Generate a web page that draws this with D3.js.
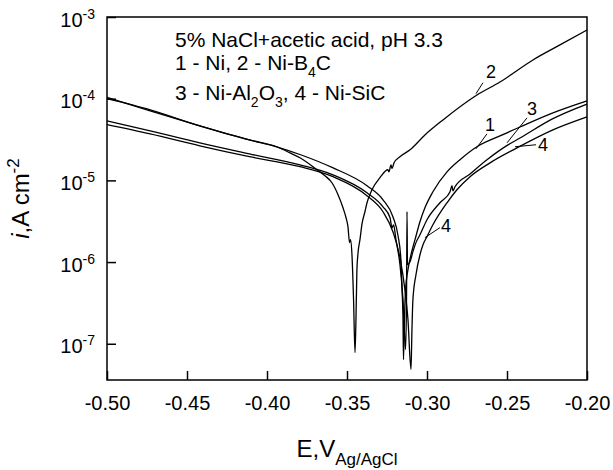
<!DOCTYPE html>
<html lang="en">
<head>
<meta charset="UTF-8">
<title>Polarization curves</title>
<style>
body { margin: 0; background: #fff; }
svg { font-family: "Liberation Sans", Arial, sans-serif; }
.curve { fill: none; stroke: #000; stroke-width: 1.3px; }
.frame { fill: none; stroke: #000; stroke-width: 1.5px; }
.lead { stroke: #000; stroke-width: 1px; }
</style>
</head>
<body>
<script src="https://cdn.jsdelivr.net/npm/d3@7"></script>
<script>
    // potentials (V vs Ag/AgCl) and current densities (A cm-2)
    var e1 = [-0.500, -0.473, -0.442, -0.411, -0.394, -0.379, -0.359, -0.3375, -0.3275, -0.3213, -0.3181, -0.3163, -0.3156, -0.3150, -0.3147, -0.3141, -0.3134, -0.3119, -0.3100, -0.3075, -0.3044, -0.3013, -0.2963, -0.2875, -0.2794, -0.2688, -0.2544, -0.2419, -0.2213, -0.2000];
    var i1 = [1.0e-4, 7.3e-5, 4.65e-5, 3.13e-5, 2.58e-5, 2.06e-5, 1.43e-5, 8.6e-6, 5.79e-6, 3.59e-6, 2.1e-6, 1.07e-6, 4.6e-7, 1.98e-7, 6.4e-8, 1.98e-7, 4.6e-7, 8.07e-7, 1.23e-6, 1.88e-6, 3.12e-6, 4.62e-6, 7.26e-6, 1.27e-5, 1.79e-5, 2.58e-5, 3.5e-5, 4.5e-5, 6.7e-5, 9.4e-5];

    var e2 = [-0.500, -0.473, -0.442, -0.411, -0.394, -0.3856, -0.3794, -0.3688, -0.3638, -0.3594, -0.3556, -0.3525, -0.3506, -0.3494, -0.3484, -0.3478, -0.3469, -0.3459, -0.3450, -0.3444, -0.3438, -0.3431, -0.3419, -0.3406, -0.3388, -0.3375, -0.3344, -0.3294, -0.3244, -0.3238, -0.3225, -0.3219, -0.3206, -0.3169, -0.3106, -0.3013, -0.2900, -0.2688, -0.2544, -0.2338, -0.2169, -0.2000];
    var i2 = [1.04e-4, 7.1e-5, 4.65e-5, 3.13e-5, 2.58e-5, 2.17e-5, 1.89e-5, 1.35e-5, 1.14e-5, 9.35e-6, 6.67e-6, 4.62e-6, 3.49e-6, 2.71e-6, 1.73e-6, 1.88e-6, 1.23e-6, 3.47e-7, 7.8e-8, 1.98e-7, 8.07e-7, 1.30e-6, 1.88e-6, 2.95e-6, 4.13e-6, 5.32e-6, 7.67e-6, 1.08e-5, 1.35e-5, 1.27e-5, 1.55e-5, 1.39e-5, 1.64e-5, 1.95e-5, 2.37e-5, 3.6e-5, 5.5e-5, 1.11e-4, 1.60e-4, 2.98e-4, 4.55e-4, 6.93e-4];

    var e3 = [-0.500, -0.473, -0.442, -0.411, -0.3794, -0.3588, -0.3375, -0.3275, -0.3231, -0.3219, -0.3209, -0.3194, -0.3169, -0.3150, -0.3134, -0.3128, -0.3125, -0.3122, -0.3106, -0.3088, -0.3069, -0.3044, -0.3000, -0.2919, -0.2856, -0.2844, -0.2838, -0.2825, -0.2731, -0.2625, -0.2494, -0.2419, -0.2213, -0.2000];
    var i3 = [5.35e-5, 4.04e-5, 2.88e-5, 2.11e-5, 1.55e-5, 1.17e-5, 7.05e-6, 4.75e-6, 3.49e-6, 2.64e-6, 2.86e-6, 1.88e-6, 9.3e-7, 3.47e-7, 8.5e-8, 3.47e-7, 4.13e-6, 9.3e-7, 1.01e-6, 1.34e-6, 1.73e-6, 2.16e-6, 3.3e-6, 5.32e-6, 7.26e-6, 8.6e-6, 7.46e-6, 8.36e-6, 1.2e-5, 1.79e-5, 2.72e-5, 3.3e-5, 5.7e-5, 8.6e-5];

    var e4 = [-0.500, -0.473, -0.442, -0.411, -0.3794, -0.3588, -0.3375, -0.3275, -0.3213, -0.3169, -0.3138, -0.3119, -0.3100, -0.3094, -0.3088, -0.3069, -0.3044, -0.3025, -0.3000, -0.2963, -0.2875, -0.2813, -0.2731, -0.2606, -0.2438, -0.2213, -0.2000];
    var i4 = [4.8e-5, 3.7e-5, 2.65e-5, 1.95e-5, 1.47e-5, 1.11e-5, 6.49e-6, 4.13e-6, 2.35e-6, 1.13e-6, 4.6e-7, 1.98e-7, 4.84e-8, 1.49e-7, 3.47e-7, 7.0e-7, 1.23e-6, 1.63e-6, 2.05e-6, 2.86e-6, 5.32e-6, 7.67e-6, 1.11e-5, 1.64e-5, 2.5e-5, 4.16e-5, 6.0e-5];

    var xTicks = [-0.50, -0.45, -0.40, -0.35, -0.30, -0.25, -0.20];
    var xTickLabels = ["-0.50", "-0.45", "-0.40", "-0.35", "-0.30", "-0.25", "-0.20"];
    var yTicks = [1e-7, 1e-6, 1e-5, 1e-4, 1e-3];
    var yTickExp = ["-7", "-6", "-5", "-4", "-3"];

    // curve labels: text and the point on the curve the leader starts from
    var labelText = ["2", "1", "3", "4", "4"];
    var labelE = [-0.2694, -0.2694, -0.2500, -0.2450, -0.3013];
    var labelI = [1.15e-4, 2.43e-5, 2.88e-5, 2.58e-5, 1.99e-6];

    var margin = { top: 17, right: 26, bottom: 90, left: 107 },
        width = 613 - margin.left - margin.right,
        height = 470 - margin.top - margin.bottom;

    var x = d3.scaleLinear().domain([-0.5, -0.2]).range([0, width]);
    var y = d3.scaleLog().domain([3.6e-8, 1e-3]).range([height, 0]);

    var svg = d3.select("body").append("svg")
        .attr("width", 613)
        .attr("height", 470)
        .append("g")
        .attr("transform", "translate(" + margin.left + "," + margin.top + ")");

    var line = d3.line()
        .x(function(d) { return x(d[0]); })
        .y(function(d) { return y(d[1]); })
        .curve(d3.curveMonotoneX);

    var curves = [d3.zip(e1, i1), d3.zip(e2, i2), d3.zip(e3, i3), d3.zip(e4, i4)];

    svg.selectAll(".curve")
        .data(curves)
        .enter().append("path")
        .attr("class", "curve")
        .attr("d", line);

    // x axis, ticks pointing in
    var xAxis = svg.append("g")
        .attr("transform", "translate(0," + height + ")")
        .call(d3.axisBottom(x).tickValues(xTicks).tickSize(-9).tickPadding(16)
            .tickFormat(function(d, i) { return xTickLabels[i]; }));
    xAxis.select(".domain").remove();
    xAxis.attr("font-size", 20).attr("font-family", null);
    xAxis.selectAll("line").attr("stroke-width", 1.5);
    xAxis.selectAll("text").attr("fill", "#000");

    // y axis, labels as 10 with superscript
    var yAxis = svg.append("g")
        .call(d3.axisLeft(y).tickValues(yTicks).tickSize(-9).tickFormat(""));
    yAxis.select(".domain").remove();
    yAxis.selectAll("line").attr("stroke-width", 1.5);
    yAxis.selectAll(".tick text").remove();
    yAxis.selectAll(".tick").each(function(d, i) {
        var t = d3.select(this).append("text")
            .attr("x", -12)
            .attr("y", 9)
            .attr("text-anchor", "end")
            .attr("font-size", 20)
            .attr("fill", "#000");
        t.append("tspan").text("10");
        t.append("tspan").attr("font-size", 14).attr("dy", -8).text(yTickExp[i]);
    });

    svg.append("rect")
        .attr("class", "frame")
        .attr("width", width)
        .attr("height", height);

    // legend block
    var leg = svg.append("g").attr("font-size", 21);
    leg.append("text").attr("x", 68).attr("y", 30).text("5% NaCl+acetic acid, pH 3.3");
    var l2 = leg.append("text").attr("x", 68).attr("y", 53);
    l2.append("tspan").text("1 - Ni, 2 - Ni-B");
    l2.append("tspan").attr("font-size", 14).attr("dy", 7).text("4");
    l2.append("tspan").attr("dy", -7).text("C");
    var l3 = leg.append("text").attr("x", 68).attr("y", 83);
    l3.append("tspan").text("3 - Ni-Al");
    l3.append("tspan").attr("font-size", 14).attr("dy", 7).text("2");
    l3.append("tspan").attr("dy", -7).text("O");
    l3.append("tspan").attr("font-size", 14).attr("dy", 7).text("3");
    l3.append("tspan").attr("dy", -7).text(", 4 - Ni-SiC");

    // curve number labels with leader lines
    var leadEnd = [[7, -11], [11, -15], [20, -25], [21, -2], [15, -10]];
    var textPos = [[15, -16], [14, -18], [25, -28], [28, 4], [21, -6]];
    labelText.forEach(function(s, k) {
        var px = x(labelE[k]), py = y(labelI[k]);
        svg.append("line").attr("class", "lead")
            .attr("x1", px).attr("y1", py)
            .attr("x2", px + leadEnd[k][0]).attr("y2", py + leadEnd[k][1]);
        svg.append("text")
            .attr("x", px + textPos[k][0]).attr("y", py + textPos[k][1])
            .attr("text-anchor", "middle")
            .attr("font-size", 18)
            .text(s);
    });

    // axis titles
    var xt = svg.append("text")
        .attr("x", width / 2).attr("y", 440)
        .attr("text-anchor", "middle")
        .attr("font-size", 24);
    xt.append("tspan").text("E,V");
    xt.append("tspan").attr("font-size", 17).attr("dy", 8).text("Ag/AgCl");

    var yt = svg.append("text")
        .attr("transform", "translate(-78," + (height / 2) + ") rotate(-90)")
        .attr("text-anchor", "middle")
        .attr("font-size", 24);
    yt.append("tspan").attr("font-style", "italic").text("i");
    yt.append("tspan").text(",A cm");
    yt.append("tspan").attr("font-size", 17).attr("dy", -10).text("-2");
</script>
</body>
</html>
